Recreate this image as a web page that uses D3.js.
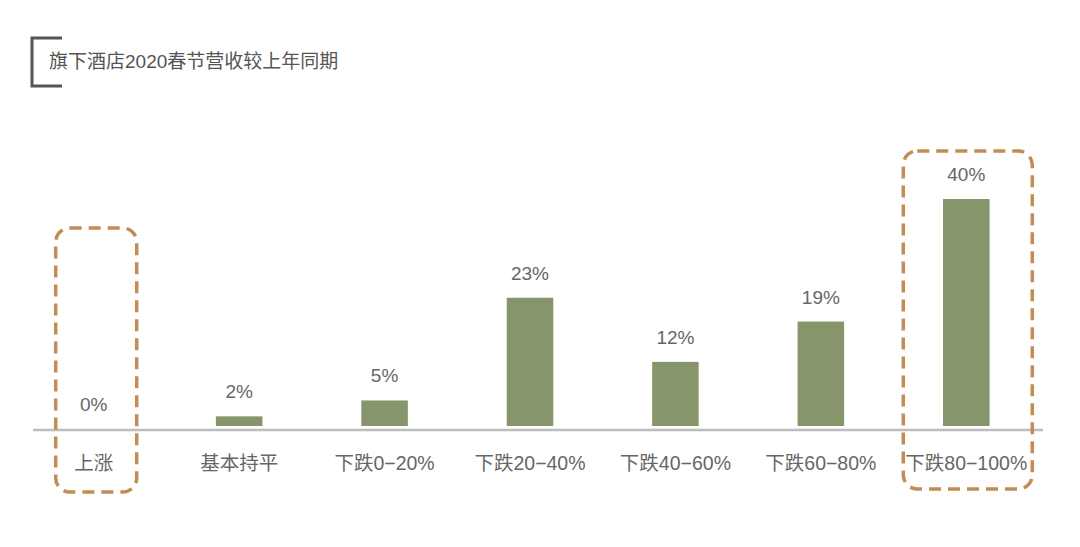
<!DOCTYPE html>
<html>
<head>
<meta charset="utf-8">
<script src="https://cdn.jsdelivr.net/npm/d3@7"></script>
<style>
  body { margin: 0; background: #fff; }
  text { font-family: "Liberation Sans", "Noto Sans CJK SC", sans-serif; }
</style>
</head>
<body>
<div id="wrapper"></div>
<script>
const categories = ['上涨', '基本持平', '下跌0−20%', '下跌20−40%', '下跌40−60%', '下跌60−80%', '下跌80−100%']
// bar heights; labels as printed
const values = [0, 1.7, 4.5, 22.6, 11.3, 18.4, 40]
const valueLabels = ['0%', '2%', '5%', '23%', '12%', '19%', '40%']
const highlighted = ['上涨', '下跌80−100%']
const title = '旗下酒店2020春节营收较上年同期'

function drawBars() {
  const data = categories.map((c, i) => ({ category: c, value: values[i], label: valueLabels[i] }))

  const dimensions = { width: 1080, height: 547 }

  const svg = d3.select('#wrapper')
    .append('svg')
      .attr('width', dimensions.width)
      .attr('height', dimensions.height)

  const xScale = d3.scaleBand()
      .domain(categories)
      .range([21, 1039])
      .paddingInner(0.68)
      .paddingOuter(0.34)

  const yScale = d3.scaleLinear()
      .domain([0, 40])
      .range([426, 199])

  // title with bracket
  svg.append('path')
      .attr('d', 'M62,38 H32 V86 H62')
      .attr('fill', 'none')
      .attr('stroke', '#555')
      .attr('stroke-width', 3)
  svg.append('text')
      .attr('x', 49)
      .attr('y', 68)
      .attr('font-size', 19)
      .attr('fill', '#555')
      .text(title)

  // bars
  svg.append('g').selectAll('rect')
    .data(data)
    .join('rect')
      .attr('x', d => xScale(d.category))
      .attr('y', d => yScale(d.value))
      .attr('width', xScale.bandwidth())
      .attr('height', d => yScale(0) - yScale(d.value))
      .attr('fill', '#87956a')

  // baseline
  svg.append('line')
      .attr('x1', 33)
      .attr('x2', 1043)
      .attr('y1', 430)
      .attr('y2', 430)
      .attr('stroke', '#bdbdbd')
      .attr('stroke-width', 2.5)

  // value labels
  svg.append('g').selectAll('text')
    .data(data)
    .join('text')
      .attr('x', d => xScale(d.category) + xScale.bandwidth() / 2)
      .attr('y', d => yScale(d.value) - (d.value ? 18 : 15))
      .attr('text-anchor', 'middle')
      .attr('font-size', 19)
      .attr('fill', '#666')
      .text(d => d.label)

  // category labels
  svg.append('g').selectAll('text')
    .data(data)
    .join('text')
      .attr('x', d => xScale(d.category) + xScale.bandwidth() / 2)
      .attr('y', 470)
      .attr('text-anchor', 'middle')
      .attr('font-size', 19.5)
      .attr('fill', '#666')
      .text(d => d.category)

  // dashed highlight boxes
  const boxes = [
    { category: highlighted[0], left: 38, right: 43, top: 228, bottom: 492 },
    { category: highlighted[1], left: 63, right: 66, top: 151, bottom: 489 },
  ]
  svg.append('g').selectAll('rect')
    .data(boxes)
    .join('rect')
      .attr('x', d => xScale(d.category) + xScale.bandwidth() / 2 - d.left)
      .attr('y', d => d.top)
      .attr('width', d => d.left + d.right)
      .attr('height', d => d.bottom - d.top)
      .attr('rx', 14)
      .attr('fill', 'none')
      .attr('stroke', '#c38c55')
      .attr('stroke-width', 3.5)
      .attr('stroke-dasharray', '12,7')
}

drawBars()
</script>
</body>
</html>
